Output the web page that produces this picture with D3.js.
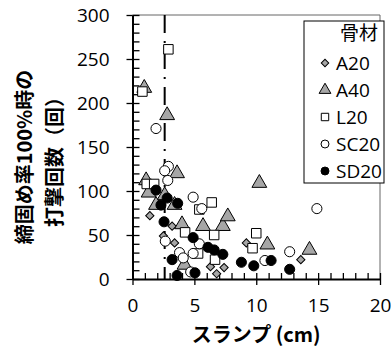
<!DOCTYPE html>
<html>
<head>
<meta charset="utf-8">
<script src="https://cdn.jsdelivr.net/npm/d3@7"></script>
<style>
body { margin: 0; background: #fff; }
text { font-family: "Open Sans", "Noto Sans CJK JP", sans-serif; fill: #000; }
.jp { font-family: "Noto Sans CJK JP", sans-serif; font-weight: bold; }
</style>
</head>
<body>
<svg></svg>
<script>
// values: [slump cm, blows]
const a20 = [[1.4, 72], [3.2, 60], [2.5, 49], [3.4, 41], [6.3, 14], [7.4, 13], [6.8, 6], [9.2, 41], [13.6, 22], [6.7, 25]];
const a40 = [[0.95, 217], [2.8, 186], [3.6, 120], [1.1, 112], [1.3, 98], [2.6, 95], [1.9, 84], [3.4, 84], [4.0, 62],
             [5.7, 60], [7.3, 60], [7.7, 71], [10.25, 109], [10.9, 39], [14.3, 33], [4.2, 16]];
const l20 = [[2.9, 261], [0.8, 213], [1.15, 108], [1.75, 108], [6.4, 87], [5.4, 79], [4.25, 53], [6.6, 50],
             [5.3, 29], [6.67, 22], [10.0, 52], [9.7, 35]];
const sc20 = [[1.9, 171], [2.9, 128], [2.6, 123], [2.85, 112], [4.9, 93], [5.6, 80], [2.65, 43], [5.4, 40],
              [3.8, 30], [4.1, 24], [4.9, 29], [4.7, 8], [10.7, 21], [12.7, 31], [14.9, 80]];
const sd20 = [[1.9, 101], [2.8, 92], [2.3, 84], [3.65, 86], [2.55, 65], [4.9, 47], [6.1, 36], [6.6, 33], [7.3, 28],
              [3.2, 22], [3.6, 4], [5.05, 7], [8.8, 19], [9.8, 15], [11.2, 21], [12.7, 11]];
const seriesNames = ['A20', 'A40', 'L20', 'SC20', 'SD20'];
const xTicks = [0, 5, 10, 15, 20];
const yTicks = [0, 50, 100, 150, 200, 250, 300];
const refSlump = 2.6;

const W = 391, H = 349;
const plot = {l: 132.5, r: 380, t: 15, b: 279};

const svg = d3.select('svg').attr('width', W).attr('height', H);

const x = d3.scaleLinear().domain([0, 20]).range([plot.l, plot.r]);
const y = d3.scaleLinear().domain([0, 300]).range([plot.b, plot.t]);

// frame (top / right)
svg.append('path')
    .attr('d', `M${plot.l},${plot.t}H${plot.r}V${plot.b}`)
    .attr('fill', 'none').attr('stroke', '#666').attr('stroke-width', 1);

// minor ticks (inside)
svg.append('g')
    .attr('transform', `translate(0,${plot.b})`)
    .call(d3.axisBottom(x).tickValues(d3.range(0, 21, 1)).tickSize(-6).tickFormat(''))
    .call(g => g.select('.domain').remove());
svg.append('g')
    .attr('transform', `translate(${plot.l},0)`)
    .call(d3.axisLeft(y).tickValues(d3.range(0, 301, 10)).tickSize(-7).tickFormat(''))
    .call(g => g.select('.domain').remove());

// major axes
const xAxisG = svg.append('g')
    .attr('transform', `translate(0,${plot.b})`)
    .call(d3.axisBottom(x).tickValues(xTicks).tickSize(6).tickSizeOuter(0).tickPadding(14));
const yAxisG = svg.append('g')
    .attr('transform', `translate(${plot.l},0)`)
    .call(d3.axisLeft(y).tickValues(yTicks).tickSize(6).tickSizeOuter(0).tickPadding(17));

[xAxisG, yAxisG].forEach(g => {
    g.select('.domain').attr('stroke-width', 2);
    g.selectAll('text').attr('font-size', 19).attr('font-family', '"Open Sans", sans-serif');
});
svg.selectAll('.tick line').attr('stroke', '#000').attr('stroke-width', 1.3);

// reference line
svg.append('line')
    .attr('x1', x(refSlump)).attr('x2', x(refSlump))
    .attr('y1', y(300)).attr('y2', y(0))
    .attr('stroke', '#000').attr('stroke-width', 2)
    .attr('stroke-dasharray', '18,8,2,8');

// markers (diamond = rotated square)
const sym = {
    A20: d3.symbol().type(d3.symbolSquare).size(34),
    A40: d3.symbol().type(d3.symbolTriangle).size(95),
    L20: d3.symbol().type(d3.symbolSquare).size(90),
    SC20: d3.symbol().type(d3.symbolCircle).size(80),
    SD20: d3.symbol().type(d3.symbolCircle).size(80)
};
const rot = name => name === 'A20' ? ' rotate(45)' : '';
const fills = {A20: '#a6a6a6', A40: '#a6a6a6', L20: '#fff', SC20: '#fff', SD20: '#000'};
const allData = {A20: a20, A40: a40, L20: l20, SC20: sc20, SD20: sd20};

seriesNames.forEach(name => {
    svg.append('g').selectAll('path')
        .data(allData[name])
        .join('path')
        .attr('d', sym[name])
        .attr('transform', d => `translate(${x(d[0])},${y(d[1])})${rot(name)}`)
        .attr('fill', fills[name])
        .attr('stroke', '#000')
        .attr('stroke-width', 1);
});

// legend
const lg = svg.append('g');
lg.append('rect')
    .attr('x', 304).attr('y', 21).attr('width', 80).attr('height', 162)
    .attr('fill', '#fff').attr('stroke', '#000').attr('stroke-width', 1);
lg.append('text').attr('class', 'jp').style('font-weight', 'normal')
    .attr('x', 378).attr('y', 33).attr('dy', '0.35em')
    .attr('text-anchor', 'end').attr('font-size', 19).text('骨材');
const legSym = {
    A20: d3.symbol().type(d3.symbolSquare).size(28),
    A40: d3.symbol().type(d3.symbolTriangle).size(60),
    L20: d3.symbol().type(d3.symbolSquare).size(55),
    SC20: d3.symbol().type(d3.symbolCircle).size(50),
    SD20: d3.symbol().type(d3.symbolCircle).size(50)
};
seriesNames.forEach((name, i) => {
    const yy = 63 + i * 27;
    lg.append('path').attr('d', legSym[name])
        .attr('transform', `translate(325,${yy})${rot(name)}`)
        .attr('fill', fills[name]).attr('stroke', '#000');
    lg.append('text').attr('x', 336).attr('y', yy).attr('dy', '0.35em')
        .attr('font-size', 19).text(name);
});

// axis titles
svg.append('text').attr('class', 'jp')
    .attr('x', x(10)).attr('y', 342)
    .attr('text-anchor', 'middle').attr('font-size', 20)
    .text('スランプ (cm)');
const yt = svg.append('g').attr('transform', 'translate(0,157) rotate(-90)');
yt.append('text').attr('class', 'jp').attr('x', 0).attr('y', 25).attr('dy', '0.35em')
    .attr('text-anchor', 'middle').attr('font-size', 20).text('締固め率100%時の');
yt.append('text').attr('class', 'jp').attr('x', 0).attr('y', 55).attr('dy', '0.35em')
    .attr('text-anchor', 'middle').attr('font-size', 20).text('打撃回数（回）');
</script>
</body>
</html>
